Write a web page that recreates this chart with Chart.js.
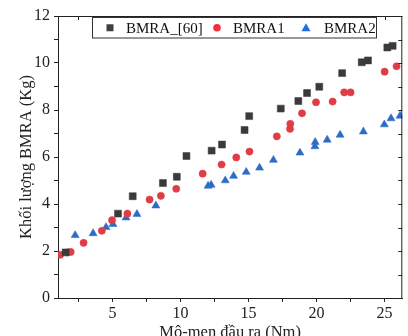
<!DOCTYPE html>
<html><head><meta charset="utf-8">
<script src="https://cdn.jsdelivr.net/npm/chart.js@4"></script>
<style>
html,body{margin:0;padding:0;background:#fff;overflow:hidden;width:408px;height:336px}
#wrap{position:relative;width:408px;height:342px}
</style></head><body>
<div id="wrap"><canvas id="c" width="408" height="342"></canvas></div>
<script>
const seriesNames = ['BMRA_[60]', 'BMRA1', 'BMRA2'];
const xTickLabels = [5, 10, 15, 20, 25];
const yTickLabels = [0, 2, 4, 6, 8, 10, 12];

const bmra60X = [1.56, 5.41, 6.49, 8.71, 9.73, 10.44, 12.29, 13.05, 14.71, 15.05, 17.37, 18.66, 19.3, 20.2, 21.88, 23.32, 23.78, 25.2, 25.59];
const bmra60Y = [1.94, 3.59, 4.33, 4.89, 5.16, 6.04, 6.27, 6.53, 7.15, 7.74, 8.06, 8.38, 8.72, 8.99, 9.57, 10.03, 10.11, 10.66, 10.73];

const bmra1X = [1.16, 1.68, 1.93, 2.88, 4.22, 4.97, 6.1, 7.73, 8.56, 9.69, 11.63, 13.02, 14.1, 15.07, 17.08, 18.05, 18.07, 18.93, 19.96, 21.18, 22.03, 22.5, 25.0, 25.88];
const bmra1Y = [1.84, 1.94, 1.96, 2.35, 2.86, 3.31, 3.59, 4.19, 4.35, 4.65, 5.29, 5.68, 5.98, 6.23, 6.88, 7.2, 7.41, 7.86, 8.33, 8.36, 8.75, 8.75, 9.63, 9.86];

const bmra2X = [2.26, 3.58, 4.53, 5.04, 6.0, 6.8, 8.19, 12.03, 12.25, 13.29, 13.9, 14.83, 15.81, 16.83, 18.78, 19.88, 19.9, 20.78, 21.73, 23.44, 24.98, 25.47, 26.13];
const bmra2Y = [2.67, 2.75, 3.01, 3.14, 3.42, 3.57, 3.93, 4.77, 4.81, 5.0, 5.19, 5.36, 5.54, 5.87, 6.18, 6.45, 6.63, 6.73, 6.94, 7.08, 7.38, 7.64, 7.75];

const toPts = (xs, ys) => xs.map((v, i) => ({x: v, y: ys[i]}));
const FONT = "'Liberation Serif','Times New Roman',serif";
const seriesColors = ['#3a3a3a', '#e03c48', '#2d6cc6'];
const legendColors = ['#404040', '#f0303a', '#1f6fe0'];
const seriesStyles = ['rect', 'circle', 'triangle'];
const seriesRadius = [4.9, 3.6, 4.6];

const framePlugin = {
  id: 'frame',
  afterDraw(chart) {
    const {ctx, chartArea: a, scales: {x, y}} = chart;
    ctx.save();
    ctx.strokeStyle = '#222';
    ctx.lineWidth = 1;
    ctx.beginPath();
    ctx.moveTo(a.left, a.top + 0.5); ctx.lineTo(a.right, a.top + 0.5);
    ctx.moveTo(a.right - 0.5, a.top); ctx.lineTo(a.right - 0.5, a.bottom);
    for (let v = 0; v <= 12; v++) {
      const py = Math.round(y.getPixelForValue(v)) + 0.5;
      ctx.moveTo(a.right, py); ctx.lineTo(a.right - 4, py);
    }
    for (let v = 2.5; v <= 26; v += 2.5) {
      const px = Math.round(x.getPixelForValue(v)) + 0.5;
      ctx.moveTo(px, a.top); ctx.lineTo(px, a.top + 4);
    }
    ctx.stroke();

    // legend box
    const bx = 92.5, by = 17.5, bw = 284, bh = 20.5;
    ctx.fillStyle = '#fff';
    ctx.fillRect(bx, by, bw, bh);
    ctx.strokeStyle = '#333';
    ctx.strokeRect(bx, by, bw, bh);
    const my = by + bh / 2;
    const markX = [110, 217, 306];
    const textX = [126, 233, 324];
    ctx.font = '15px ' + FONT;
    ctx.textBaseline = 'middle';
    ctx.textAlign = 'left';
    chart.data.datasets.forEach((ds, i) => {
      ctx.fillStyle = legendColors[i];
      ctx.beginPath();
      const cx = markX[i];
      if (seriesStyles[i] === 'rect') {
        ctx.rect(cx - 3.5, my - 3.5, 7, 7);
      } else if (seriesStyles[i] === 'circle') {
        ctx.arc(cx, my, 3.8, 0, Math.PI * 2);
      } else {
        ctx.moveTo(cx, my - 4.5); ctx.lineTo(cx + 4.5, my + 3.5); ctx.lineTo(cx - 4.5, my + 3.5); ctx.closePath();
      }
      ctx.fill();
      ctx.fillStyle = '#111';
      ctx.fillText(ds.label, textX[i], my + 1);
    });
    ctx.restore();
  }
};

new Chart(document.getElementById('c'), {
  type: 'scatter',
  data: {
    datasets: seriesNames.map((name, i) => ({
      label: name,
      data: [toPts(bmra60X, bmra60Y), toPts(bmra1X, bmra1Y), toPts(bmra2X, bmra2Y)][i],
      pointStyle: seriesStyles[i],
      pointRadius: seriesRadius[i],
      pointBackgroundColor: seriesColors[i],
      pointBorderColor: seriesColors[i] + 'aa',
      pointBorderWidth: 0.8
    }))
  },
  options: {
    responsive: false,
    animation: false,
    devicePixelRatio: 1,
    layout: {padding: {left: 0, right: 3, top: 16, bottom: 0}},
    plugins: {legend: {display: false}, tooltip: {enabled: false}},
    scales: {
      x: {
        type: 'linear', min: 1, max: 26.3,
        afterBuildTicks: s => { const t = []; for (let v = 2.5; v <= 26; v += 2.5) t.push({value: v}); s.ticks = t; },
        afterFit: s => { s.height = 44; },
        ticks: {
          callback: v => xTickLabels.includes(v) ? String(v) : '',
          color: '#222', font: {family: FONT, size: 16}, padding: 2, maxRotation: 0, autoSkip: false
        },
        grid: {drawOnChartArea: false, drawTicks: true, tickLength: 4, color: '#222'},
        border: {display: true, color: '#222', width: 1},
        title: {display: true, text: 'Mô-men đầu ra (Nm)', color: '#222', font: {family: FONT, size: 16.5}, padding: {top: 0, bottom: -1}}
      },
      y: {
        type: 'linear', min: 0, max: 12,
        afterBuildTicks: s => { const t = []; for (let v = 0; v <= 12; v++) t.push({value: v}); s.ticks = t; },
        afterFit: s => { s.width = 58; },
        ticks: {
          callback: v => yTickLabels.includes(v) ? String(v) : '',
          color: '#222', font: {family: FONT, size: 16}, padding: 4, autoSkip: false
        },
        grid: {drawOnChartArea: false, drawTicks: true, tickLength: 4, color: '#222'},
        border: {display: true, color: '#222', width: 1},
        title: {display: true, text: 'Khối lượng BMRA (Kg)', color: '#222', font: {family: FONT, size: 16.5}, padding: {top: 16.5, bottom: 0}}
      }
    }
  },
  plugins: [framePlugin]
});
</script>
</body></html>
